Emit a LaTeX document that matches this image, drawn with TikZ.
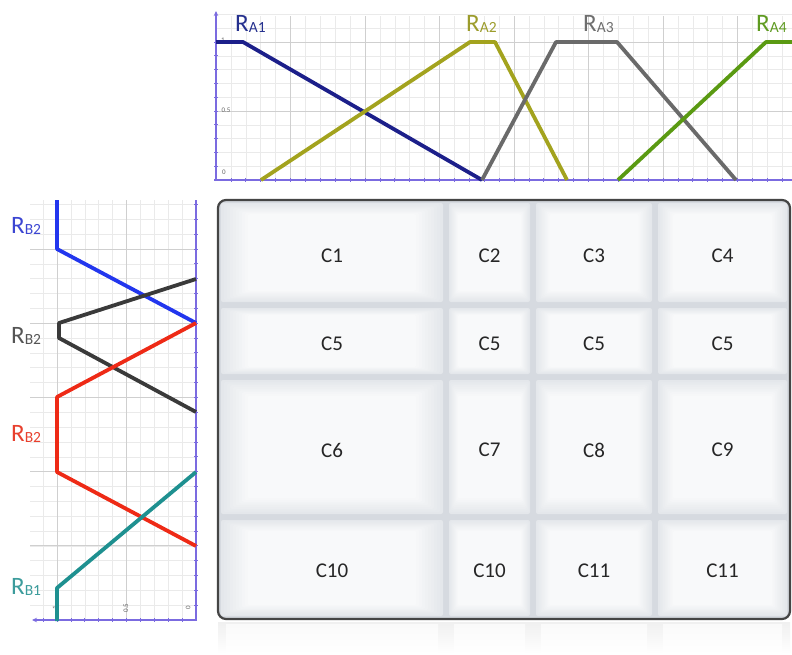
\documentclass[tikz,border=0pt]{standalone}
\usepackage{fontspec}
\setmainfont{Carlito}
\usetikzlibrary{arrows.meta}
\definecolor{axiscol}{HTML}{7B6BE0}
\definecolor{gridmaj}{HTML}{CFCFCF}
\definecolor{gridmin}{HTML}{EAEAEA}
\definecolor{ra1}{HTML}{1C1F8A}
\definecolor{ra2}{HTML}{A3A31E}
\definecolor{ra3}{HTML}{6A6A6A}
\definecolor{ra4}{HTML}{5A9A12}
\definecolor{rbblue}{HTML}{2236EE}
\definecolor{rbblack}{HTML}{3A3A3A}
\definecolor{rbred}{HTML}{EE2A16}
\definecolor{rbteal}{HTML}{1E9090}
\definecolor{la1}{HTML}{25308E}
\definecolor{la2}{HTML}{9C9C2C}
\definecolor{la3}{HTML}{6E6E6E}
\definecolor{la4}{HTML}{5E9A20}
\definecolor{lbblue}{HTML}{3C46D2}
\definecolor{lbgray}{HTML}{555555}
\definecolor{lbred}{HTML}{E8402E}
\definecolor{lbteal}{HTML}{3C9C9C}
\definecolor{groove}{HTML}{D6DAE0}
\definecolor{tileout}{HTML}{E4E7EB}
\definecolor{tilein}{HTML}{F8F9FA}
\definecolor{boxline}{HTML}{454545}
\newcommand{\tile}[6]{%
  \foreach \i in {0,...,12}{%
    \pgfmathsetmacro{\fx}{3+\i*(0.17*(#3-#1)-3)/12}%
    \pgfmathsetmacro{\fy}{3+\i*(0.17*(#4-#2)-3)/12}%
    \pgfmathtruncatemacro{\mx}{min(100,\i*11)}%
    \fill[tilein!\mx!tileout,rounded corners=2pt] ({#1+\fx},{#2+\fy}) rectangle ({#3-\fx},{#4-\fy});%
  }%
  \node[celltxt] (#5) at ({(#1+#3)/2},{(#2+#4)/2+3}) {#6};%
}
\newcommand{\rlabel}[2]{{\fontsize{25}{25}\selectfont R}{\fontsize{15.5}{15.5}\selectfont\raisebox{-1.5pt}{#1#2}}}
\begin{document}
\begin{tikzpicture}[x=1pt,y=-1pt,
  axisline/.style={draw=axiscol,line width=1.3pt},
  tickmark/.style={draw=axiscol,line width=0.8pt},
  majgrid/.style={draw=gridmaj,line width=0.7pt},
  mingrid/.style={draw=gridmin,line width=0.5pt},
  curve/.style={line width=3.8pt,line join=round},
  celltxt/.style={font=\fontsize{21}{21}\selectfont,text=black!85},
  ticktxt/.style={font=\fontsize{7}{7}\selectfont,text=black!60,inner sep=0pt},
  lbl/.style={anchor=base west,inner sep=0pt}]
\useasboundingbox (0,0) rectangle (792,654);
\fill[white] (0,0) rectangle (792,654);

% ---------- top chart grid ----------
\foreach \k in {1,...,38}{\draw[mingrid] ({216+\k*14.9},16) -- ({216+\k*14.9},180);}
\foreach \k in {-2,...,10}{\draw[mingrid] (216,{42+\k*13.8}) -- (792,{42+\k*13.8});}
\foreach \k in {1,...,7}{\draw[majgrid] ({216+\k*74.5},16) -- ({216+\k*74.5},180);}
\foreach \yy in {42,111}{\draw[majgrid] (216,\yy) -- (792,\yy);}

% ---------- left chart grid ----------
\foreach \k in {1,...,11}{\draw[mingrid] ({196-\k*13.9},200) -- ({196-\k*13.9},620);}
\foreach \k in {1,...,28}{\draw[mingrid] (30,{620-\k*14.84}) -- (196,{620-\k*14.84});}
\foreach \k in {1,2}{\draw[majgrid] ({196-\k*69.5},200) -- ({196-\k*69.5},620);}
\foreach \k in {1,...,5}{\draw[majgrid] (30,{620-\k*74.2}) -- (196,{620-\k*74.2});}

% ---------- top chart axes ----------
\draw[axisline] (214,180) -- (792,180);
\draw[axisline,-{Stealth[length=5pt,width=4.5pt]}] (216,181) -- (216,11);
\foreach \k in {1,...,38}{\draw[tickmark] ({216+\k*14.9},178) -- ({216+\k*14.9},182);}
\foreach \k in {0,...,9}{\draw[tickmark] (214,{42+\k*13.8}) -- (218,{42+\k*13.8});}
\node[ticktxt] (ty1) at (223,40) {1};
\node[ticktxt] (ty05) at (226,110) {0.5};
\node[ticktxt] (ty0) at (224,172) {0};

% ---------- left chart axes ----------
\draw[axisline] (196,200) -- (196,621);
\draw[axisline,-{Stealth[length=5pt,width=4.5pt]}] (197,620) -- (32,620);
\foreach \k in {1,...,28}{\draw[tickmark] (194,{620-\k*14.84}) -- (198,{620-\k*14.84});}
\foreach \k in {1,...,11}{\draw[tickmark] ({196-\k*13.9},618) -- ({196-\k*13.9},622);}
\node[ticktxt,rotate=90] (tx1) at (55,608) {1};
\node[ticktxt,rotate=90] (tx05) at (126,608) {0.5};
\node[ticktxt,rotate=90] (tx0) at (188,608) {0};

% ---------- top curves ----------
\draw[curve,ra1] (216,42) -- (243,42) -- (482,180);
\draw[curve,ra2] (261,180) -- (470,42) -- (495,42) -- (567,180);
\draw[curve,ra3] (482,180) -- (556,42) -- (617,42) -- (736,180);
\draw[curve,ra4] (618,180) -- (766,42) -- (793,42);

% ---------- left curves ----------
\draw[curve,rbblue] (57,200) -- (57,249) -- (196,323);
\draw[curve,rbblack] (196,279) -- (59,323) -- (59,338) -- (196,412);
\draw[curve,rbred] (196,323) -- (57,397) -- (57,472) -- (196,546);
\draw[curve,rbteal] (196,472) -- (57,588) -- (57,621);

% ---------- labels ----------
\node[lbl,text=la1] (lA1) at (235,31) {\rlabel{A}{1}};
\node[lbl,text=la2] (lA2) at (466,31) {\rlabel{A}{2}};
\node[lbl,text=la3] (lA3) at (583,31) {\rlabel{A}{3}};
\node[lbl,text=la4] (lA4) at (756,31) {\rlabel{A}{4}};
\node[lbl,text=lbblue] (lB2a) at (11,233) {\rlabel{B}{2}};
\node[lbl,text=lbgray] (lB2b) at (11,343) {\rlabel{B}{2}};
\node[lbl,text=lbred] (lB2c) at (11,441) {\rlabel{B}{2}};
\node[lbl,text=lbteal] (lB1) at (11,594) {\rlabel{B}{1}};

% ---------- reflection below box ----------
\fill[top color=black!6,bottom color=white] (218,622) rectangle (790,654);
\foreach \xa/\xb in {218/446,446/533,533/655,655/790}{
  \fill[top color=black!2,bottom color=white] ({\xa+8},624) rectangle ({\xb-8},654);}

% ---------- cell box ----------
\begin{scope}
\clip[rounded corners=8pt] (218,200) rectangle (790,619);
\fill[groove] (218,200) rectangle (790,619);
\tile{218}{200}{446}{305}{c1}{C1}
\tile{446}{200}{533}{305}{c2}{C2}
\tile{533}{200}{655}{305}{c3}{C3}
\tile{655}{200}{790}{305}{c4}{C4}
\tile{218}{305}{446}{377}{c5a}{C5}
\tile{446}{305}{533}{377}{c5b}{C5}
\tile{533}{305}{655}{377}{c5c}{C5}
\tile{655}{305}{790}{377}{c5d}{C5}
\tile{218}{377}{446}{517}{c6}{C6}
\tile{446}{377}{533}{517}{c7}{C7}
\tile{533}{377}{655}{517}{c8}{C8}
\tile{655}{377}{790}{517}{c9}{C9}
\tile{218}{517}{446}{619}{c10a}{C10}
\tile{446}{517}{533}{619}{c10b}{C10}
\tile{533}{517}{655}{619}{c11a}{C11}
\tile{655}{517}{790}{619}{c11b}{C11}
\end{scope}
\draw[boxline,line width=2.2pt,rounded corners=8pt] (218,200) rectangle (790,619);
\end{tikzpicture}
\end{document}
